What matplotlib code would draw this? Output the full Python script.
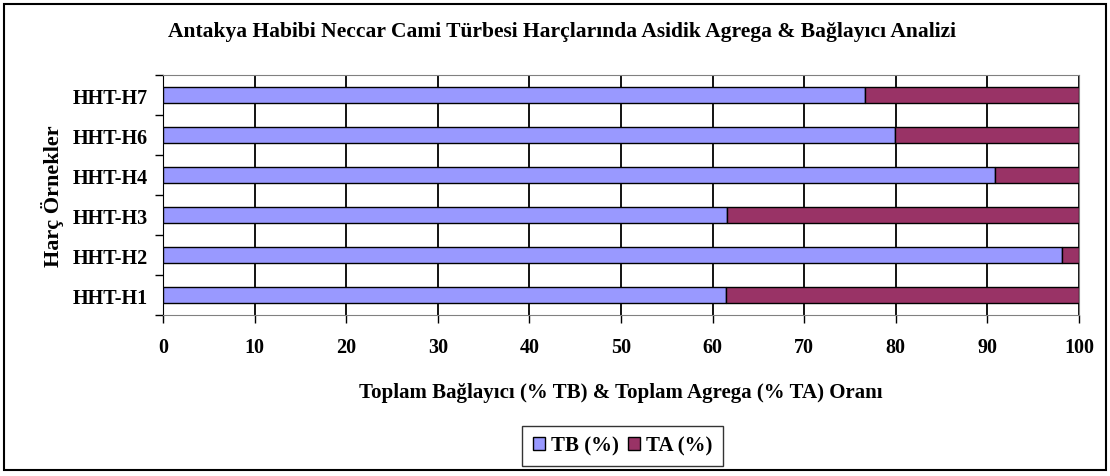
import matplotlib.pyplot as plt
from matplotlib.patches import Rectangle

samples = ['HHT-H1', 'HHT-H2', 'HHT-H3', 'HHT-H4', 'HHT-H6', 'HHT-H7']
tb = [61.5, 98.2, 61.6, 90.8, 79.9, 76.6]
ta = [100 - v for v in tb]

plt.rcParams['font.family'] = 'Liberation Serif'
plt.rcParams['font.weight'] = 'bold'
plt.rcParams['axes.labelweight'] = 'bold'

fig = plt.figure(figsize=(11.1, 4.77), dpi=100)
ax = fig.add_axes([0.147, 0.3375, 0.825, 0.503])

y = range(len(samples))
ax.barh(y, tb, height=0.38, color='#9999ff', edgecolor='black', linewidth=1, label='TB (%)', zorder=3)
ax.barh(y, ta, left=tb, height=0.38, color='#993366', edgecolor='black', linewidth=1, label='TA (%)', zorder=3)

ax.set_xlim(0, 100)
ax.set_ylim(-0.5, len(samples) - 0.5)
ax.set_xticks(range(0, 101, 10))
ax.set_yticks(list(y))
ax.set_yticklabels(samples, fontsize=14.5)
ax.set_yticks([i - 0.5 for i in range(len(samples) + 1)], minor=True)
ax.tick_params(axis='y', which='major', length=0, pad=11)
ax.tick_params(axis='y', which='minor', length=6, direction='out', width=1)
ax.tick_params(axis='x', length=6, direction='out', width=1, labelsize=14.5, pad=10)
ax.xaxis.grid(True, color='black', linewidth=1.3, zorder=0)

for side in ['top', 'right', 'bottom']:
    ax.spines[side].set_color('#808080')
ax.spines['left'].set_color('black')

ax.set_xlabel('Toplam Bağlayıcı (% TB) & Toplam Agrega (% TA) Oranı', fontsize=15, labelpad=18)
ax.set_ylabel('Harç Örnekler', fontsize=16, labelpad=6)
fig.text(0.506, 0.932, 'Antakya Habibi Neccar Cami Türbesi Harçlarında Asidik Agrega & Bağlayıcı Analizi',
         ha='center', va='center', fontsize=15.5, fontweight='bold')

leg = fig.legend(loc='center', bbox_to_anchor=(0.561, 0.063), ncol=2, frameon=True, fontsize=15,
                 handlelength=0.6, handleheight=0.6, handletextpad=0.3, columnspacing=0.4,
                 fancybox=False, edgecolor='black', borderpad=0.5)
leg.get_frame().set_linewidth(1)

fig.patches.append(Rectangle((0.004, 0.012), 0.992, 0.978, transform=fig.transFigure,
                             fill=False, edgecolor='black', linewidth=1.5))

fig.savefig('out.png', dpi=100)
